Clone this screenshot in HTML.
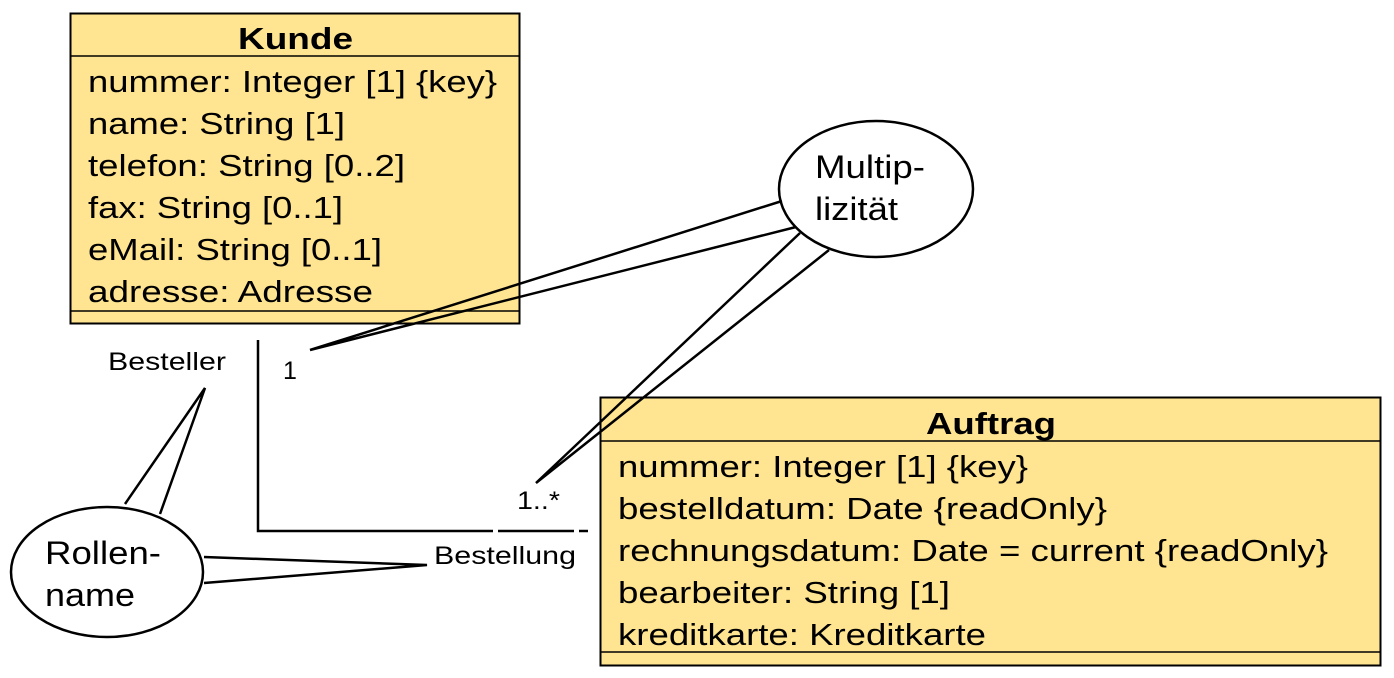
<!DOCTYPE html>
<html><head><meta charset="utf-8"><style>
body{margin:0;background:#fff;}
svg{display:block;font-family:"Liberation Sans",sans-serif;}
</style></head><body>
<svg width="1394" height="678" viewBox="0 0 1394 678" xmlns="http://www.w3.org/2000/svg">
<!-- Kunde -->
<rect x="70.5" y="13.5" width="449" height="310" fill="#FFE591" stroke="#000" stroke-width="2"/>
<line x1="70" y1="56" x2="520" y2="56" stroke="#000" stroke-width="1.5"/>
<line x1="70" y1="311" x2="520" y2="311" stroke="#000" stroke-width="1.5"/>
<text x="238" y="49" font-size="31" font-weight="bold" textLength="115" lengthAdjust="spacingAndGlyphs">Kunde</text>
<g font-size="31" lengthAdjust="spacingAndGlyphs">
<text x="88" y="92" textLength="409" lengthAdjust="spacingAndGlyphs">nummer: Integer [1] {key}</text>
<text x="88" y="134" textLength="257" lengthAdjust="spacingAndGlyphs">name: String [1]</text>
<text x="88" y="176" textLength="317" lengthAdjust="spacingAndGlyphs">telefon: String [0..2]</text>
<text x="88" y="218" textLength="255" lengthAdjust="spacingAndGlyphs">fax: String [0..1]</text>
<text x="88" y="260" textLength="294" lengthAdjust="spacingAndGlyphs">eMail: String [0..1]</text>
<text x="88" y="302" textLength="285" lengthAdjust="spacingAndGlyphs">adresse: Adresse</text>
</g>
<!-- Auftrag -->
<rect x="600.5" y="397.5" width="780" height="268" fill="#FFE591" stroke="#000" stroke-width="2"/>
<line x1="600" y1="441" x2="1381" y2="441" stroke="#000" stroke-width="1.5"/>
<line x1="600" y1="652" x2="1381" y2="652" stroke="#000" stroke-width="1.5"/>
<text x="926" y="434" font-size="31" font-weight="bold" textLength="130" lengthAdjust="spacingAndGlyphs">Auftrag</text>
<g font-size="31">
<text x="618" y="477" textLength="410" lengthAdjust="spacingAndGlyphs">nummer: Integer [1] {key}</text>
<text x="618" y="519" textLength="489" lengthAdjust="spacingAndGlyphs">bestelldatum: Date {readOnly}</text>
<text x="618" y="561" textLength="710" lengthAdjust="spacingAndGlyphs">rechnungsdatum: Date = current {readOnly}</text>
<text x="618" y="603" textLength="332" lengthAdjust="spacingAndGlyphs">bearbeiter: String [1]</text>
<text x="618" y="645" textLength="368" lengthAdjust="spacingAndGlyphs">kreditkarte: Kreditkarte</text>
</g>
<!-- association -->
<g stroke="#000" stroke-width="2.5" fill="none">
<polyline points="258,340 258,531 493,531"/>
<line x1="498" y1="531" x2="574" y2="531"/>
<line x1="579" y1="531" x2="588" y2="531"/>
</g>
<g font-size="25">
<text x="108" y="370" textLength="118" lengthAdjust="spacingAndGlyphs">Besteller</text>
<text x="283" y="379">1</text>
<text x="517" y="509" textLength="43" lengthAdjust="spacingAndGlyphs">1..*</text>
<text x="434" y="564" textLength="142" lengthAdjust="spacingAndGlyphs">Bestellung</text>
</g>
<!-- callouts -->
<g stroke="#000" stroke-width="2.5" fill="none">
<ellipse cx="876" cy="189" rx="97" ry="68" fill="#fff"/>
<polyline points="782,201 310,350 796,227"/>
<polyline points="800,233 536,483 829,250"/>
<ellipse cx="107" cy="572" rx="96" ry="65" fill="#fff"/>
<polyline points="125,504 205,388 160,514"/>
<polyline points="204,557 427,565 204,583"/>
</g>
<g font-size="32">
<text x="815" y="178" textLength="110" lengthAdjust="spacingAndGlyphs">Multip-</text>
<text x="815" y="220" textLength="83" lengthAdjust="spacingAndGlyphs">lizität</text>
<text x="45" y="564" textLength="116" lengthAdjust="spacingAndGlyphs">Rollen-</text>
<text x="45" y="606" textLength="90" lengthAdjust="spacingAndGlyphs">name</text>
</g>
</svg>
</body></html>
